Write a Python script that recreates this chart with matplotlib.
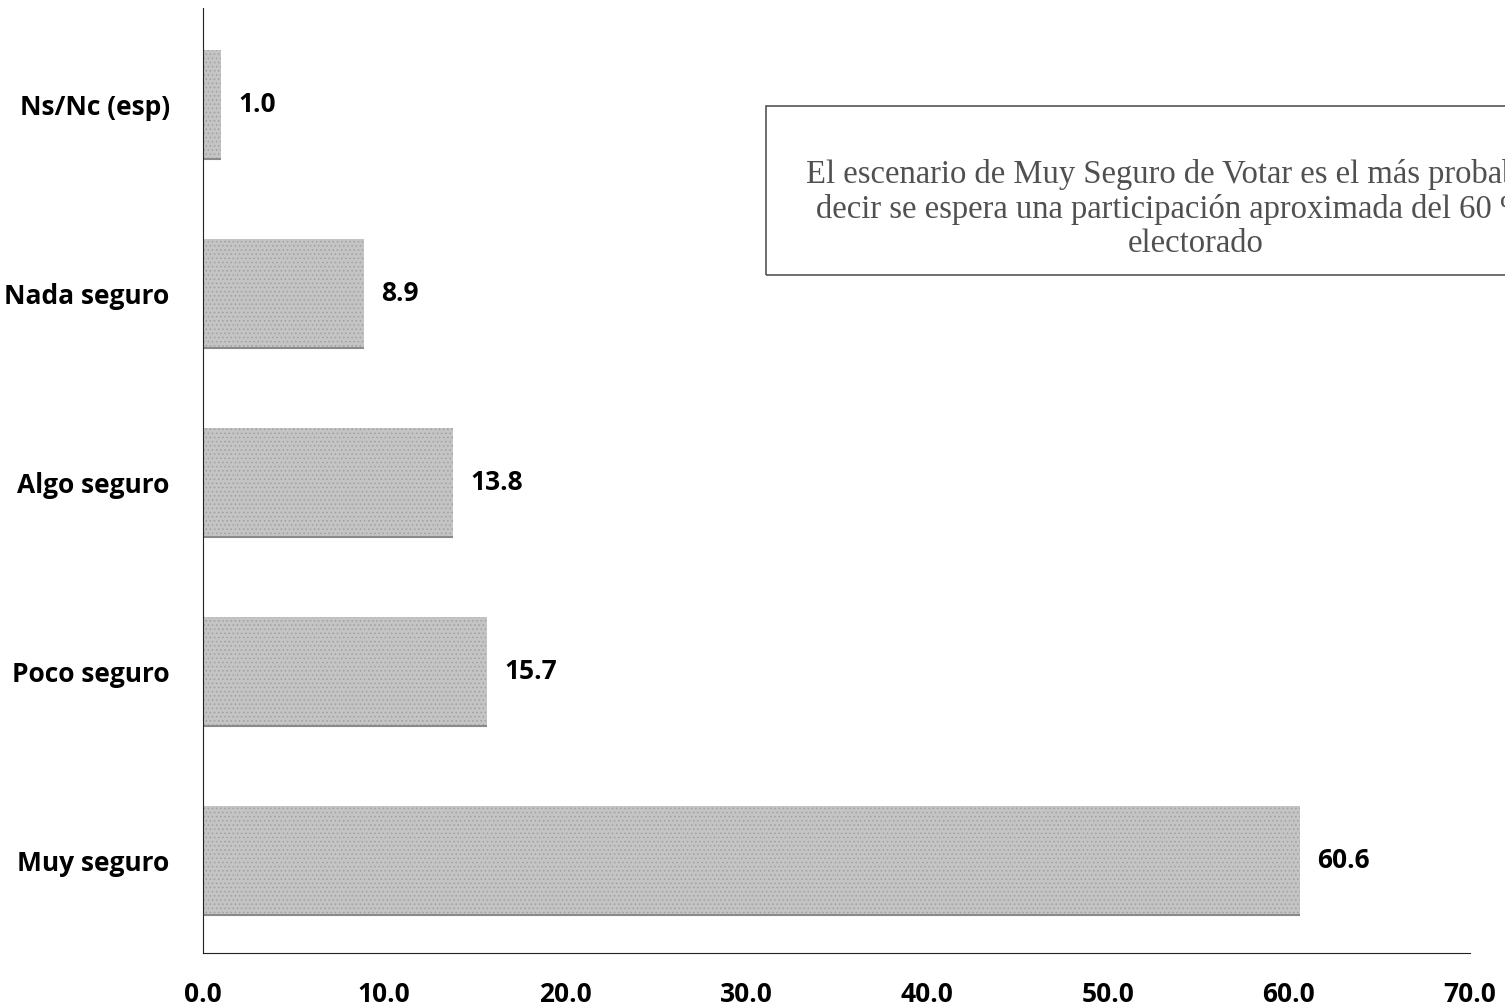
import matplotlib.pyplot as plt
from matplotlib.patches import Rectangle

categories = ["Muy seguro", "Poco seguro", "Algo seguro", "Nada seguro", "Ns/Nc (esp)"]
values = [60.6, 15.7, 13.8, 8.9, 1.0]
xticks = [0, 10, 20, 30, 40, 50, 60, 70]
note = ("El escenario de Muy Seguro de Votar es el más probable, es\n"
        "decir se espera una participación aproximada del 60 % del\n"
        "electorado")

plt.rcParams["hatch.linewidth"] = 0.6

fig = plt.figure(figsize=(15.05, 10.08), dpi=100)
ax = fig.add_axes([203 / 1505, 55 / 1008, (1470 - 203) / 1505, (1000 - 55) / 1008])

pos = list(range(len(categories)))
h = 0.58
ax.barh(pos, values, height=h, color="#c4c4c4", edgecolor="#a0a0a0",
        linewidth=0, hatch="....")
# thin darker line under each bar (scanned shadow)
ax.hlines([p - h / 2 for p in pos], 0, values, color="#8a8a8a", lw=1.5)

for p, v in zip(pos, values):
    ax.text(v + 0.95, p, f"{v:.1f}", va="center", ha="left",
            fontsize=19, fontweight="bold", family="Open Sans")

ax.set_xlim(0, 70)
ax.set_ylim(-0.49, 4.51)
ax.set_xticks(xticks)
ax.set_xticklabels([f"{t:.1f}" for t in xticks], fontsize=19,
                   fontweight="bold", family="Open Sans")
ax.set_yticks(pos)
ax.set_yticklabels(categories, fontsize=19, fontweight="bold", family="Open Sans")
ax.tick_params(axis="both", length=0)
ax.tick_params(axis="x", pad=20)
ax.tick_params(axis="y", pad=24)
ax.spines["top"].set_visible(False)
ax.spines["right"].set_visible(False)
ax.spines["left"].set_color("#222222")
ax.spines["bottom"].set_color("#222222")

# annotation box, cut off at the right edge like the scan
fig.patches.append(Rectangle((766 / 1505, (1008 - 275) / 1008), 900 / 1505, 169 / 1008,
                             transform=fig.transFigure, fill=False,
                             edgecolor="#555555", lw=1.2))
fig.text(1196 / 1505, (1008 - 209) / 1008, note, ha="center", va="center",
         fontsize=23.5, family="Liberation Serif", color="#505050",
         linespacing=1.15, multialignment="center")

fig.savefig("out.png", dpi=100)
